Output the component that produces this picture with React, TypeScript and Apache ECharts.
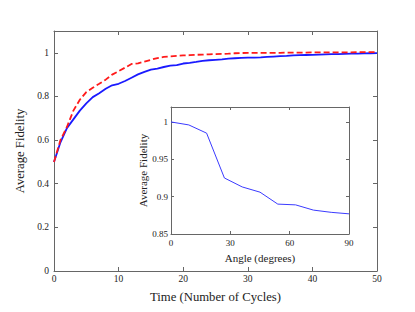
import React, { useEffect, useRef } from "react";
import * as echarts from "echarts";

const cycles = [
  0, 1, 2, 3, 4, 5, 6, 7, 8, 9, 10, 11, 12, 13, 14, 15, 16, 17, 18, 19, 20, 21, 22, 23, 24, 25,
  26, 27, 28, 29, 30, 31, 32, 33, 34, 35, 36, 37, 38, 39, 40, 41, 42, 43, 44, 45, 46, 47, 48, 49, 50,
];

const blueFidelity = [
  0.5, 0.59, 0.655, 0.695, 0.735, 0.768, 0.797, 0.815, 0.835, 0.851, 0.858, 0.871, 0.886, 0.901,
  0.913, 0.923, 0.928, 0.935, 0.941, 0.944, 0.951, 0.954, 0.958, 0.963, 0.966, 0.968, 0.97, 0.973,
  0.975, 0.977, 0.978, 0.978, 0.979, 0.981, 0.983, 0.985, 0.986, 0.988, 0.989, 0.99, 0.991, 0.992,
  0.993, 0.994, 0.994, 0.995, 0.996, 0.996, 0.997, 0.998, 0.999,
];

const redFidelity = [
  0.5, 0.6, 0.66, 0.735, 0.785, 0.82, 0.84, 0.858, 0.877, 0.9, 0.916, 0.932, 0.949, 0.952, 0.96,
  0.968, 0.976, 0.981, 0.984, 0.986, 0.988, 0.989, 0.991, 0.992, 0.993, 0.994, 0.995, 0.996, 0.998,
  0.999, 1.0, 1.0, 1.0, 1.0, 1.0, 1.0, 1.001, 1.001, 1.001, 1.001, 1.002, 1.002, 1.002, 1.002,
  1.002, 1.002, 1.002, 1.003, 1.003, 1.003, 1.003,
];

const angles = [0, 9, 18, 27, 36, 45, 54, 63, 72, 81, 90];
const angleFidelity = [1.0, 0.996, 0.985, 0.925, 0.913, 0.906, 0.89, 0.889, 0.882, 0.879, 0.877];

const FONT = "Liberation Serif";
const AXIS_COLOR = "#666";
const LABEL_COLOR = "#222";

function axisBase(extra: any) {
  return {
    type: "value",
    axisLine: { show: true, onZero: false, lineStyle: { color: AXIS_COLOR, width: 1 } },
    splitLine: { show: false },
    axisPointer: { show: false },
    ...extra,
  };
}

export default function App() {
  const ref = useRef<HTMLDivElement>(null);

  useEffect(() => {
    if (!ref.current) return;
    const chart = echarts.init(ref.current, undefined, { renderer: "svg" });
    const mainTick = { show: true, inside: true, length: 4, lineStyle: { color: AXIS_COLOR } };
    const insetTick = { show: true, inside: true, length: 3, lineStyle: { color: AXIS_COLOR } };
    const option: any = {
      animation: false,
      textStyle: { fontFamily: FONT },
      grid: [
        { left: 54, top: 31, width: 323, height: 240, show: false },
        {
          left: 171,
          top: 107,
          width: 178,
          height: 127,
          show: true,
          backgroundColor: "#fff",
          borderWidth: 0,
          z: 10,
        },
      ],
      xAxis: [
        axisBase({
          gridIndex: 0,
          min: 0,
          max: 50,
          interval: 10,
          position: "bottom",
          axisTick: mainTick,
          axisLabel: { fontSize: 9.5, margin: 3, color: LABEL_COLOR, fontFamily: FONT },
          name: "Time (Number of Cycles)",
          nameLocation: "middle",
          nameGap: 19,
          nameTextStyle: { fontSize: 12.7, color: LABEL_COLOR, fontFamily: FONT },
        }),
        axisBase({
          gridIndex: 0,
          min: 0,
          max: 50,
          interval: 10,
          position: "top",
          axisTick: mainTick,
          axisLabel: { show: false },
        }),
        axisBase({
          gridIndex: 1,
          min: 0,
          max: 90,
          interval: 30,
          position: "bottom",
          z: 12,
          axisTick: insetTick,
          axisLabel: { fontSize: 9, margin: 4, color: LABEL_COLOR, fontFamily: FONT },
          name: "Angle (degrees)",
          nameLocation: "middle",
          nameGap: 18,
          nameTextStyle: { fontSize: 11, color: LABEL_COLOR, fontFamily: FONT },
        }),
        axisBase({
          gridIndex: 1,
          min: 0,
          max: 90,
          interval: 30,
          position: "top",
          z: 12,
          axisTick: insetTick,
          axisLabel: { show: false },
        }),
      ],
      yAxis: [
        axisBase({
          gridIndex: 0,
          min: 0,
          max: 1.1,
          interval: 0.2,
          position: "left",
          axisTick: mainTick,
          axisLabel: {
            fontSize: 9.5,
            margin: 5,
            color: LABEL_COLOR,
            fontFamily: FONT,
            showMaxLabel: false,
          },
          name: "Average Fidelity",
          nameLocation: "middle",
          nameGap: 19,
          nameTextStyle: { fontSize: 12.7, color: LABEL_COLOR, fontFamily: FONT },
        }),
        axisBase({
          gridIndex: 0,
          min: 0,
          max: 1.1,
          interval: 0.2,
          position: "right",
          axisTick: mainTick,
          axisLabel: { show: false },
        }),
        axisBase({
          gridIndex: 1,
          min: 0.85,
          max: 1.02,
          interval: 0.05,
          position: "left",
          z: 12,
          axisTick: insetTick,
          axisLabel: {
            fontSize: 9,
            margin: 3,
            color: LABEL_COLOR,
            fontFamily: FONT,
            showMaxLabel: false,
          },
          name: "Average Fidelity",
          nameLocation: "middle",
          nameGap: 20,
          nameTextStyle: { fontSize: 11, color: LABEL_COLOR, fontFamily: FONT },
        }),
        axisBase({
          gridIndex: 1,
          min: 0.85,
          max: 1.02,
          interval: 0.05,
          position: "right",
          z: 12,
          axisTick: insetTick,
          axisLabel: { show: false },
        }),
      ],
      series: [
        {
          type: "line",
          xAxisIndex: 0,
          yAxisIndex: 0,
          data: cycles.map((t, i) => [t, blueFidelity[i]]),
          showSymbol: false,
          symbol: "none",
          lineStyle: { color: "#1a1aff", width: 1.8 },
          z: 2,
        },
        {
          type: "line",
          xAxisIndex: 0,
          yAxisIndex: 0,
          data: cycles.map((t, i) => [t, redFidelity[i]]),
          showSymbol: false,
          symbol: "none",
          lineStyle: { color: "#ff1a1a", width: 1.8, type: [6, 3] },
          z: 3,
        },
        {
          type: "line",
          xAxisIndex: 2,
          yAxisIndex: 2,
          data: angles.map((a, i) => [a, angleFidelity[i]]),
          showSymbol: false,
          symbol: "none",
          lineStyle: { color: "#3b3bff", width: 1 },
          z: 13,
        },
      ],
    };
    chart.setOption(option);
    return () => chart.dispose();
  }, []);

  return (
    <div
      ref={ref}
      style={{ position: "fixed", left: 0, top: 0, width: 415, height: 312, background: "#fff" }}
    />
  );
}
